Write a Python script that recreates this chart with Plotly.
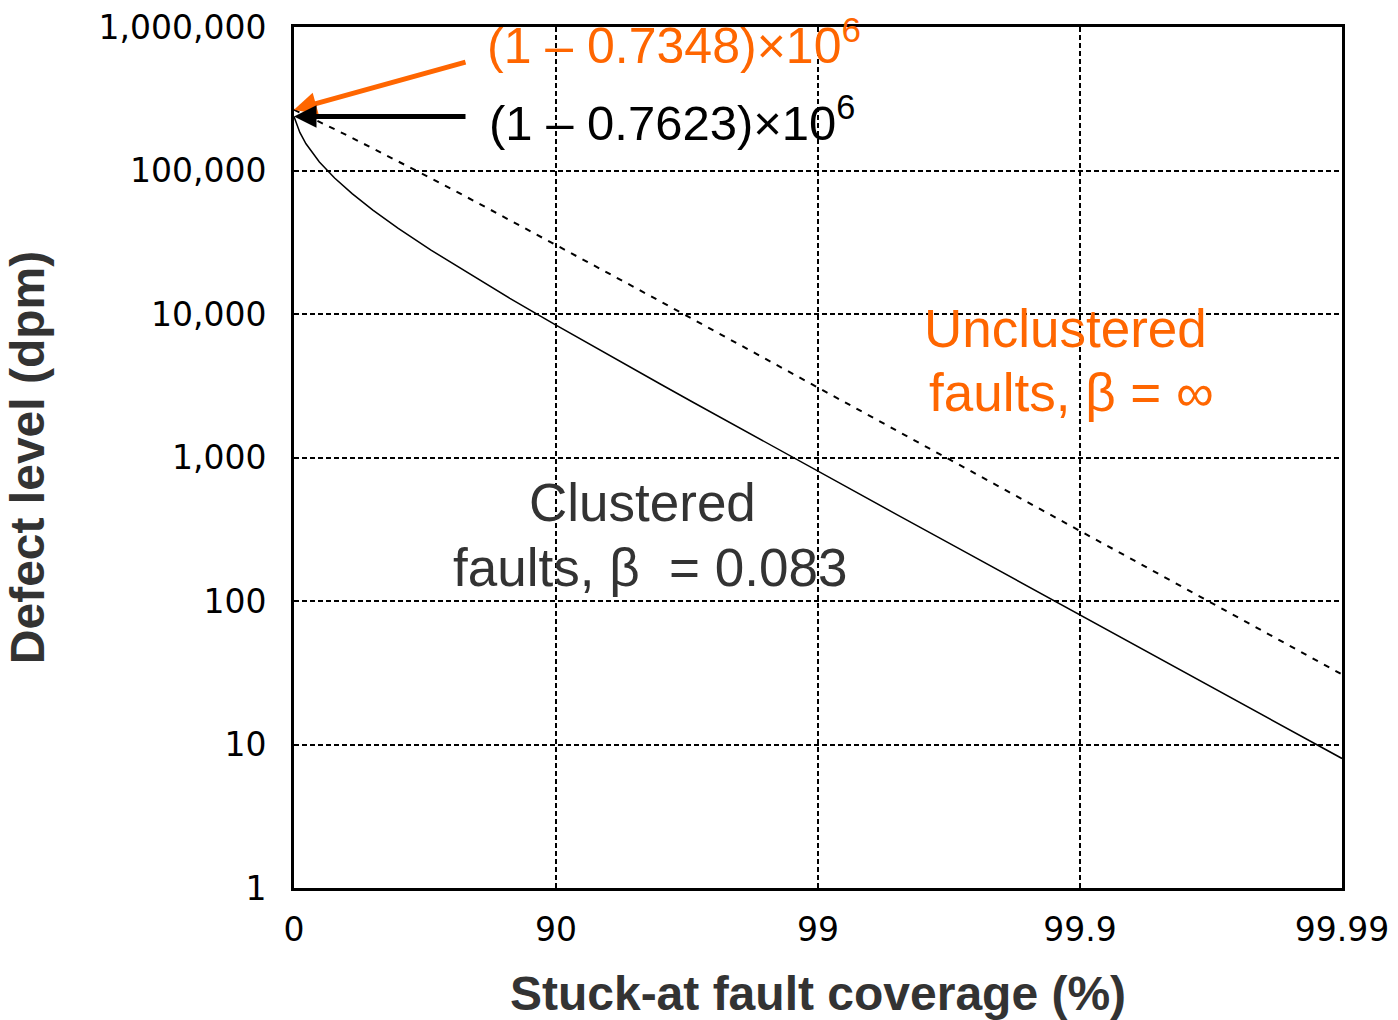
import math
import plotly.graph_objects as go

# ---- data ----
coverage_pct = [0, 5, 10, 20, 30, 40, 50, 60, 70, 80, 85, 90, 92, 94, 95, 96, 97,
                98, 98.5, 99, 99.5, 99.7, 99.8, 99.9, 99.95, 99.97, 99.98, 99.99]
unclustered_dpm = [265200, 253800, 242200, 218500, 194000, 168800, 142800, 116000,
                   88300, 59770, 45170, 30350, 24350, 18320, 15290, 12250, 9202,
                   6144, 4612, 3077, 1540, 924, 616, 308, 154, 92.4, 61.6, 30.8]
clustered_dpm = [237700, 184200, 153500, 114700, 88700, 68950, 52980, 39520,
                 27870, 17580, 12850, 8360, 6625, 4923, 4083, 3252, 2428,
                 1611, 1206, 802, 400, 240, 160, 79.9, 39.9, 24.0, 16.0, 7.99]

x_tick_cov = [0, 90, 99, 99.9, 99.99]
x_tick_text = ["0", "90", "99", "99.9", "99.99"]
y_tick_vals = [1, 10, 100, 1000, 10000, 100000, 1000000]
y_tick_text = ["1", "10", "100", "1,000", "10,000", "100,000", "1,000,000"]

uncovered = [100 - c for c in coverage_pct]
x_tick_vals = [100 - c for c in x_tick_cov]

ORANGE = "#FF6600"
TEXT_GRAY = "#333333"
TITLE_FONT = "Liberation Sans Narrow, Liberation Sans, Arial"

fig = go.Figure()
fig.add_trace(go.Scatter(x=uncovered, y=unclustered_dpm, mode="lines",
                         line=dict(color="black", width=2, dash="6px,7px"),
                         name="Unclustered", showlegend=False))
fig.add_trace(go.Scatter(x=uncovered, y=clustered_dpm, mode="lines",
                         line=dict(color="black", width=1.5),
                         name="Clustered", showlegend=False))

axis_common = dict(showline=True, linecolor="black", linewidth=3, mirror=True,
                   showgrid=True, gridcolor="black", gridwidth=2, griddash="5px,3px",
                   zeroline=False, ticks="", automargin=False, ticklabeloverflow="allow")

fig.update_xaxes(type="log", range=[2, -2], tickvals=x_tick_vals, ticktext=x_tick_text,
                 tickfont=dict(family="DejaVu Sans", size=33, color="black"),
                 ticklabelstandoff=10,
                 title=dict(text="Stuck-at fault coverage (%)", standoff=30,
                            font=dict(family=TITLE_FONT, size=48,
                                      color=TEXT_GRAY, weight="bold")),
                 **axis_common)
fig.update_yaxes(type="log", range=[0, 6], tickvals=y_tick_vals, ticktext=y_tick_text,
                 tickfont=dict(family="DejaVu Sans", size=33, color="black"),
                 ticklabelstandoff=18,
                 title=dict(text="Defect level (dpm)", standoff=39,
                            font=dict(family=TITLE_FONT, size=48,
                                      color=TEXT_GRAY, weight="bold")),
                 **axis_common)

# arrows pointing to the zero-coverage defect levels
fig.add_annotation(x=2, y=math.log10(unclustered_dpm[0]), xref="x", yref="y",
                   text="", showarrow=True, arrowhead=2, arrowsize=0.9, arrowwidth=5,
                   arrowcolor=ORANGE, ax=173, ay=-48)
fig.add_annotation(x=2, y=math.log10(clustered_dpm[0]), xref="x", yref="y",
                   text="", showarrow=True, arrowhead=2, arrowsize=0.9, arrowwidth=5,
                   arrowcolor="black", ax=173, ay=0)

fig.add_annotation(x=0.182, y=0.983, xref="paper", yref="paper", xanchor="left", yanchor="middle",
                   text="(1 \u2013 0.7348)\u00d710<sup>6</sup>", showarrow=False,
                   font=dict(family="Liberation Sans", size=50, color=ORANGE))
fig.add_annotation(x=0.184, y=0.893, xref="paper", yref="paper", xanchor="left", yanchor="middle",
                   text="(1 \u2013 0.7623)\u00d710<sup>6</sup>", showarrow=False,
                   font=dict(family="Liberation Sans", size=49, color="black"))

label_lines = [
    ("Unclustered", 0.7357, 0.6504, ORANGE),
    ("faults, \u03b2 = \u221e", 0.742, 0.576, ORANGE),
    ("Clustered", 0.333, 0.4483, TEXT_GRAY),
    ("faults, \u03b2  = 0.083", 0.3397, 0.3728, TEXT_GRAY),
]
for txt, px, py, col in label_lines:
    fig.add_annotation(x=px, y=py, xref="paper", yref="paper", xanchor="center",
                       yanchor="middle", text=txt, showarrow=False,
                       font=dict(family="Liberation Sans", size=53, color=col))

fig.update_layout(width=1398, height=1020, margin=dict(l=294, r=56, t=27, b=132),
                  paper_bgcolor="white", plot_bgcolor="white", showlegend=False)

fig.write_html("out.html", config={"displayModeBar": False},
               post_script="document.body.style.margin='0px';document.body.style.overflow='hidden';")
